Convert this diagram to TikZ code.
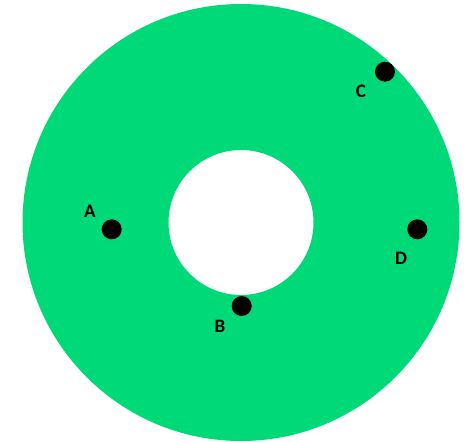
\documentclass[tikz,border=0pt]{standalone}
\usepackage{fontspec}
\setmainfont{Carlito}
\definecolor{RingGreen}{HTML}{00D978}
\usetikzlibrary{positioning}

\begin{document}
\begin{tikzpicture}[x=1pt,y=-1pt,
    spot/.style={circle, fill=black, inner sep=0pt, minimum size=20pt},
    tag/.style={font=\fontsize{19}{19}\selectfont\bfseries, inner sep=0pt}]
    \useasboundingbox (0,0) rectangle (468,442);
    % ring
    \coordinate (ctr) at (241,222.5);
    \fill[RingGreen, even odd rule] (ctr) circle[radius=218.5] (ctr) circle[radius=72.5];
    % points on the ring
    \node[spot] (dotA) at (111.7,229.3) {};
    \node[spot] (dotB) at (241.7,306) {};
    \node[spot] (dotC) at (385,71.7) {};
    \node[spot] (dotD) at (417.3,229.3) {};
    \node[tag] (tagA) at (90,211) {A};
    \node[tag] (tagB) at (220,326.5) {B};
    \node[tag] (tagC) at (361,91.5) {C};
    \node[tag] (tagD) at (401,258) {D};
  \end{tikzpicture}
\end{document}
